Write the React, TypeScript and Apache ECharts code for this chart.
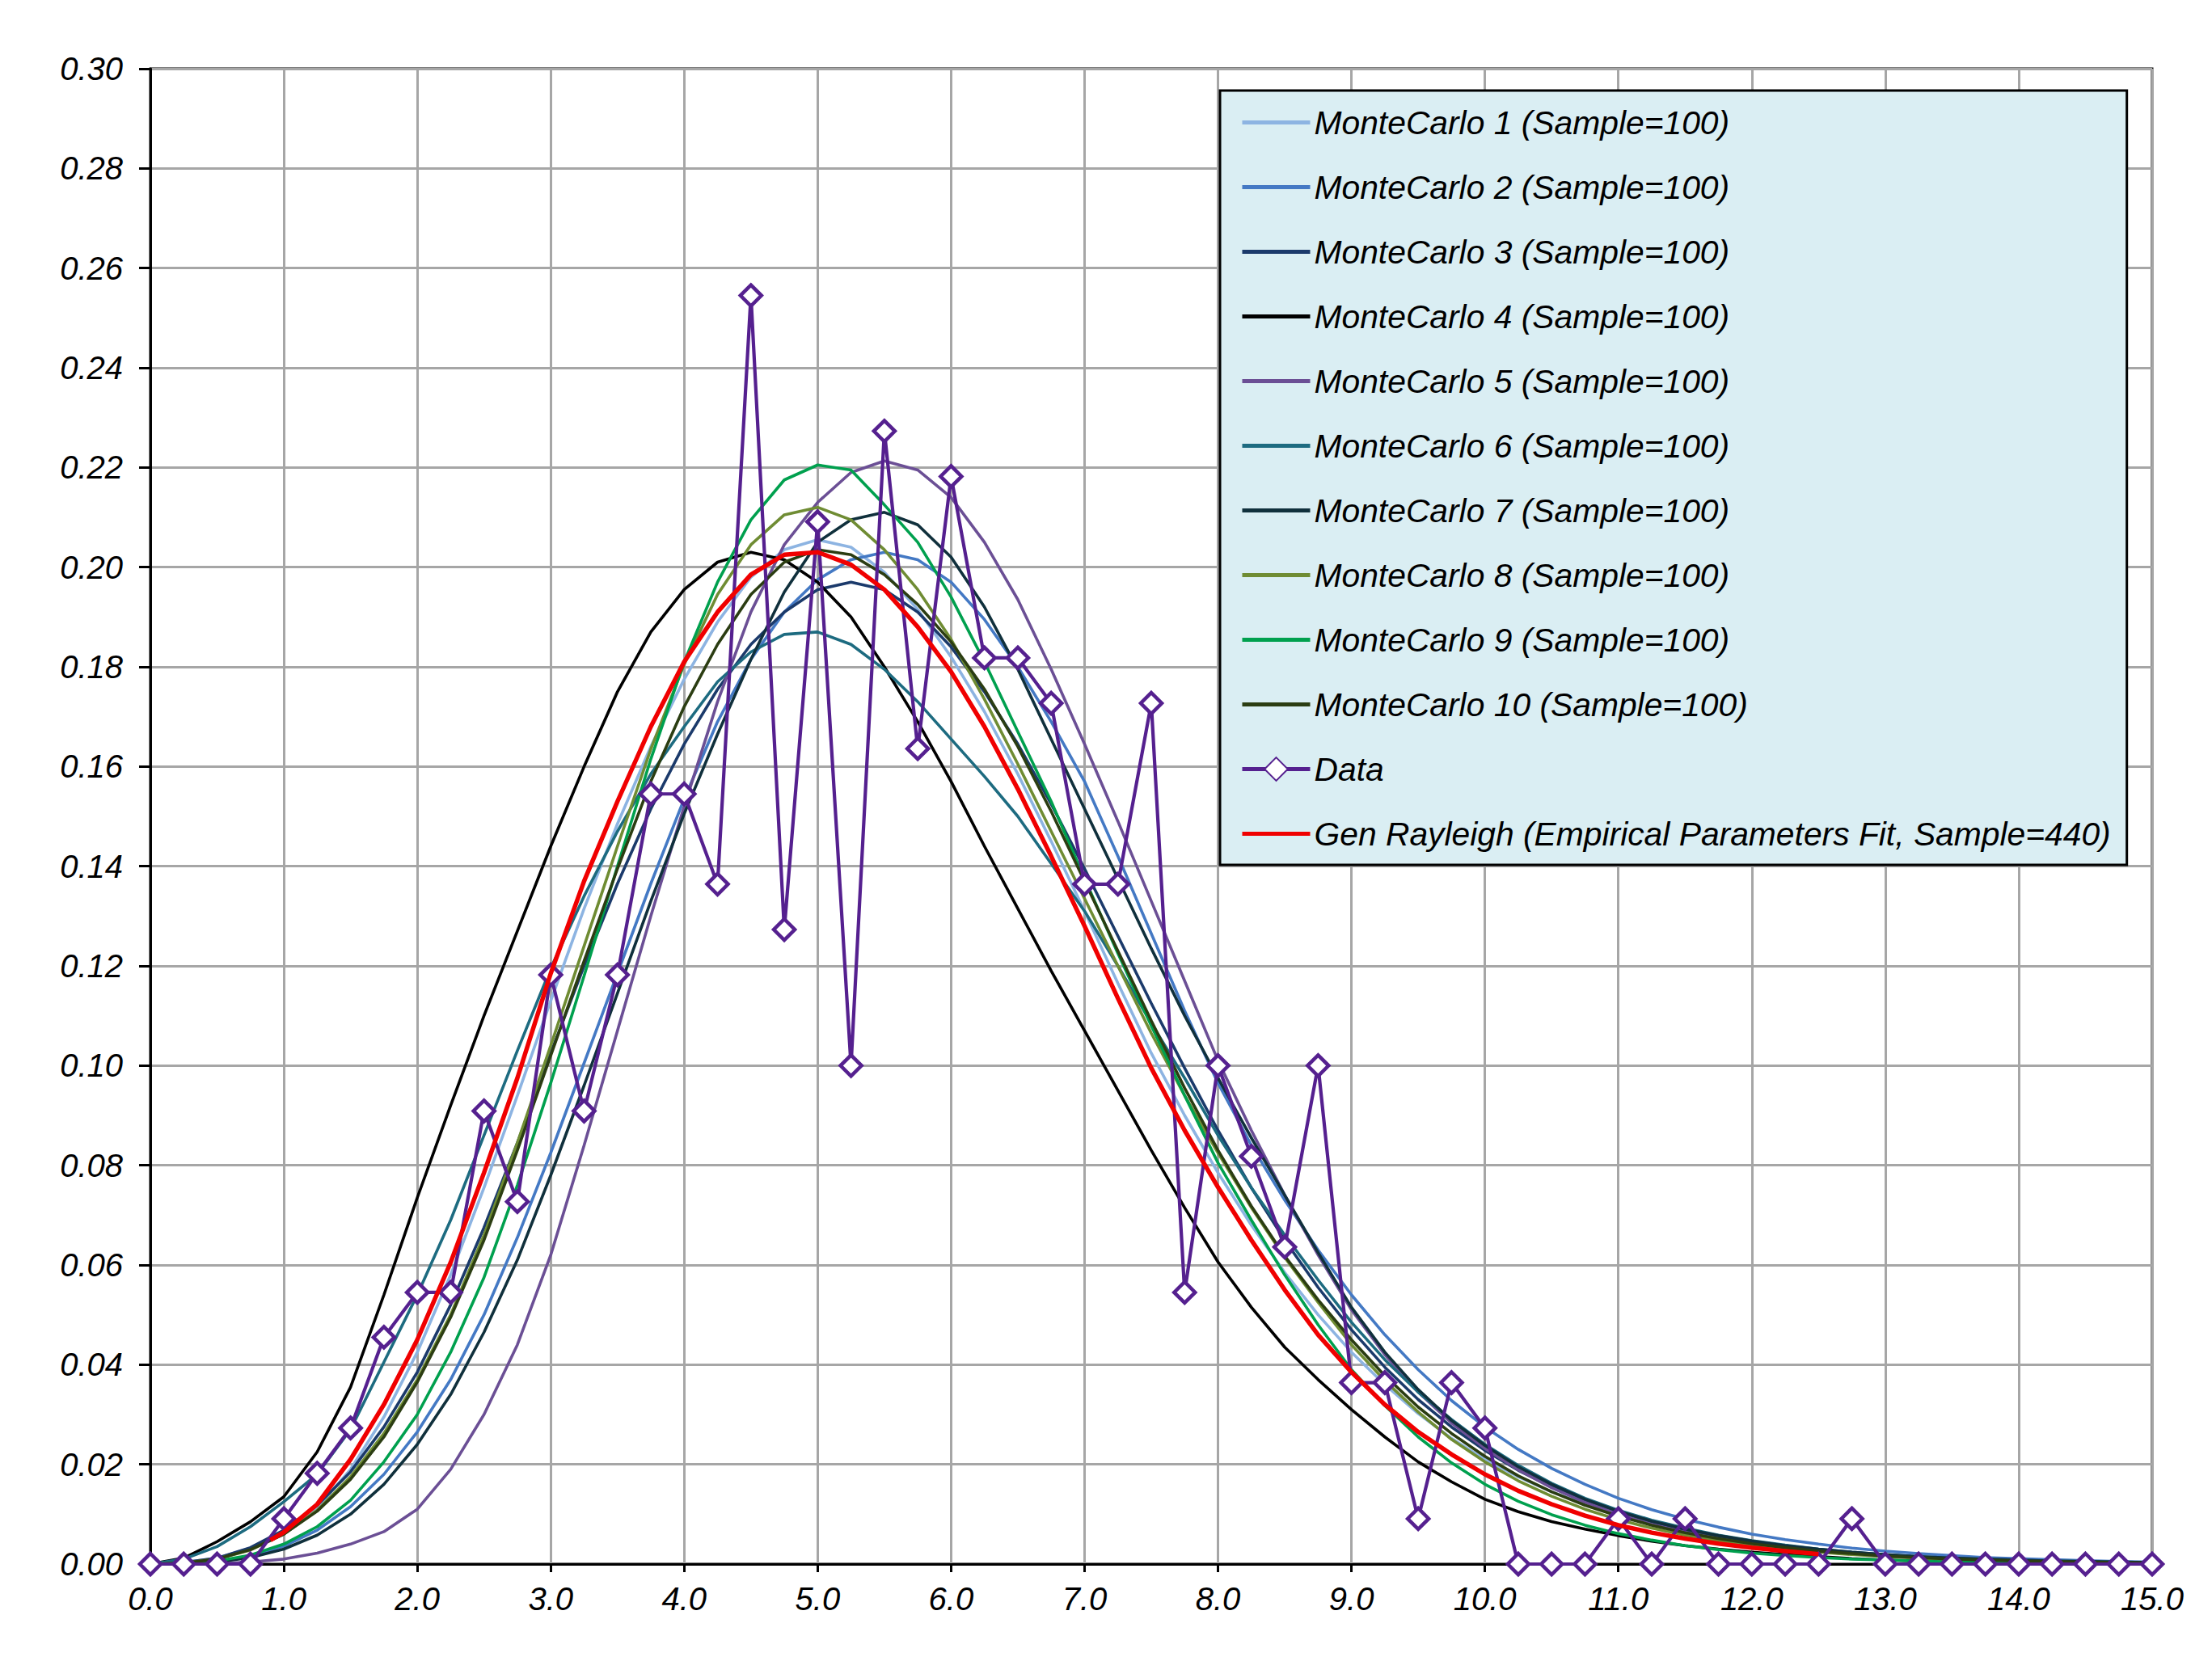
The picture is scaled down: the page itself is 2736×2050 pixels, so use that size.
import React, { useEffect, useRef } from "react";
import * as echarts from "echarts";

// x positions (bins) shared by the Monte Carlo curves and the Data series
const XS = [
  0, 0.25, 0.5, 0.75, 1, 1.25, 1.5, 1.75, 2, 2.25, 2.5, 2.75, 3, 3.25, 3.5, 3.75,
  4, 4.25, 4.5, 4.75, 5, 5.25, 5.5, 5.75, 6, 6.25, 6.5, 6.75, 7, 7.25, 7.5, 7.75,
  8, 8.25, 8.5, 8.75, 9, 9.25, 9.5, 9.75, 10, 10.25, 10.5, 10.75, 11, 11.25, 11.5, 11.75,
  12, 12.25, 12.5, 12.75, 13, 13.25, 13.5, 13.75, 14, 14.25, 14.5, 14.75, 15,
];

const MC1 = [
  0, 0.0003, 0.0012, 0.0032,
  0.0062, 0.0112, 0.019, 0.0295,
  0.0425, 0.058, 0.0755, 0.094,
  0.113, 0.1315, 0.1485, 0.164,
  0.1775, 0.189, 0.198, 0.2035,
  0.2055, 0.204, 0.199, 0.1915,
  0.182, 0.171, 0.1585, 0.145,
  0.131, 0.1165, 0.1025, 0.09,
  0.0785, 0.068, 0.0585, 0.05,
  0.0425, 0.036, 0.0302, 0.0252,
  0.021, 0.0175, 0.0145, 0.012,
  0.0099, 0.0081, 0.0066, 0.0054,
  0.0044, 0.0036, 0.0029, 0.0023,
  0.0018, 0.0014, 0.0011, 0.0009,
  0.0007, 0.0005, 0.0004, 0.0003,
  0.0003,
];

const MC2 = [
  0, 0.0001, 0.0005, 0.0016,
  0.0036, 0.0068, 0.0115, 0.018,
  0.0265, 0.037, 0.05, 0.0655,
  0.0825, 0.1005, 0.1185, 0.1365,
  0.1535, 0.169, 0.1815, 0.191,
  0.1975, 0.2015, 0.203, 0.2015,
  0.197, 0.1895, 0.18, 0.169,
  0.157, 0.142, 0.1265, 0.111,
  0.0965, 0.084, 0.073, 0.063,
  0.054, 0.046, 0.039, 0.0328,
  0.0275, 0.023, 0.0192, 0.016,
  0.0132, 0.0109, 0.009, 0.0074,
  0.006, 0.0049, 0.004, 0.0032,
  0.0026, 0.0021, 0.0017, 0.0013,
  0.0011, 0.0009, 0.0007, 0.0005,
  0.0004,
];

const MC3 = [
  0, 0.0003, 0.0012, 0.0033,
  0.0068, 0.0118, 0.0185, 0.0275,
  0.0385, 0.052, 0.0675, 0.0845,
  0.1025, 0.12, 0.1365, 0.1515,
  0.1645, 0.1755, 0.1845, 0.191,
  0.1955, 0.197, 0.1955, 0.191,
  0.184, 0.175, 0.1645, 0.1525,
  0.1395, 0.126, 0.1125, 0.0995,
  0.087, 0.0755, 0.065, 0.0555,
  0.047, 0.0395, 0.033, 0.0275,
  0.0228, 0.0188, 0.0155, 0.0127,
  0.0104, 0.0085, 0.0069, 0.0056,
  0.0045, 0.0036, 0.0029, 0.0023,
  0.0018, 0.0014, 0.0011, 0.0009,
  0.0007, 0.0005, 0.0004, 0.0003,
  0.0003,
];

const MC4 = [
  0, 0.0012, 0.0045, 0.0085,
  0.0135, 0.0225, 0.0355, 0.054,
  0.0735, 0.092, 0.11, 0.127,
  0.144, 0.16, 0.175, 0.187,
  0.1955, 0.201, 0.203, 0.2015,
  0.197, 0.19, 0.18, 0.169,
  0.157, 0.144, 0.1315, 0.119,
  0.107, 0.095, 0.083, 0.0715,
  0.0606, 0.0515, 0.0435, 0.037,
  0.031, 0.0255, 0.0205, 0.0165,
  0.013, 0.0105, 0.0085, 0.007,
  0.0057, 0.0046, 0.0037, 0.003,
  0.0024, 0.0019, 0.0015, 0.0011,
  0.0008, 0.0006, 0.0004, 0.0003,
  0.0002, 0.0002, 0.0001, 0.0001,
  0.0001,
];

const MC5 = [
  0, 0, 0.0001, 0.0004,
  0.001, 0.0022, 0.004, 0.0065,
  0.011, 0.019, 0.03, 0.044,
  0.062, 0.084, 0.107, 0.13,
  0.152, 0.173, 0.191, 0.2045,
  0.213, 0.219, 0.2213, 0.2195,
  0.214, 0.205, 0.1935, 0.1795,
  0.1645, 0.149, 0.133, 0.117,
  0.101, 0.087, 0.074, 0.062,
  0.051, 0.042, 0.0345, 0.0283,
  0.0232, 0.0189, 0.0153, 0.0124,
  0.01, 0.008, 0.0064, 0.0051,
  0.0041, 0.0032, 0.0025, 0.002,
  0.0016, 0.0012, 0.0009, 0.0007,
  0.0006, 0.0004, 0.0003, 0.0003,
  0.0002,
];

const MC6 = [
  0, 0.001, 0.0035, 0.0075,
  0.0125, 0.018, 0.027, 0.0405,
  0.054, 0.069, 0.086, 0.103,
  0.1195, 0.134, 0.147, 0.1585,
  0.168, 0.177, 0.183, 0.1865,
  0.187, 0.1845, 0.1795, 0.173,
  0.1655, 0.158, 0.15, 0.1405,
  0.131, 0.12, 0.1085, 0.0975,
  0.086, 0.0755, 0.066, 0.057,
  0.0485, 0.041, 0.0345, 0.029,
  0.024, 0.0198, 0.0162, 0.0132,
  0.0108, 0.0088, 0.0072, 0.0058,
  0.0047, 0.0038, 0.003, 0.0024,
  0.0019, 0.0015, 0.0012, 0.0009,
  0.0007, 0.0006, 0.0005, 0.0004,
  0.0003,
];

const MC7 = [
  0, 0.0001, 0.0004, 0.0013,
  0.003, 0.0058, 0.01, 0.016,
  0.024, 0.034, 0.0465, 0.061,
  0.078, 0.096, 0.1145, 0.133,
  0.1505, 0.1665, 0.1815, 0.195,
  0.205, 0.2095, 0.211, 0.2085,
  0.202, 0.192, 0.1795, 0.1655,
  0.1515, 0.1375, 0.1235, 0.11,
  0.0975, 0.0855, 0.074, 0.0625,
  0.0515, 0.0425, 0.035, 0.0288,
  0.0238, 0.0195, 0.016, 0.013,
  0.0106, 0.0086, 0.007, 0.0057,
  0.0046, 0.0037, 0.003, 0.0024,
  0.0019, 0.0015, 0.0012, 0.001,
  0.0008, 0.0006, 0.0005, 0.0004,
  0.0003,
];

const MC8 = [
  0, 0.0002, 0.001, 0.0028,
  0.006, 0.0108, 0.0175, 0.0262,
  0.037, 0.05, 0.066, 0.0845,
  0.104, 0.124, 0.144, 0.1635,
  0.1805, 0.1945, 0.2045, 0.2105,
  0.212, 0.2095, 0.2035, 0.1955,
  0.1855, 0.1735, 0.1605, 0.147,
  0.1335, 0.12, 0.1065, 0.094,
  0.0825, 0.0715, 0.0615, 0.0525,
  0.044, 0.0368, 0.0305, 0.025,
  0.0205, 0.0167, 0.0136, 0.011,
  0.0089, 0.0072, 0.0058, 0.0047,
  0.0037, 0.003, 0.0024, 0.0019,
  0.0015, 0.0012, 0.0009, 0.0007,
  0.0005, 0.0004, 0.0003, 0.0002,
  0.0002,
];

const MC9 = [
  0, 0.0001, 0.0006, 0.0018,
  0.004, 0.0075, 0.0128, 0.0205,
  0.03, 0.0425, 0.0575, 0.076,
  0.0965, 0.118, 0.14, 0.1615,
  0.181, 0.197, 0.2095, 0.2175,
  0.2205, 0.2195, 0.2125, 0.205,
  0.194, 0.181, 0.167, 0.153,
  0.1375, 0.1225, 0.108, 0.094,
  0.0805, 0.069, 0.058, 0.048,
  0.039, 0.0318, 0.0255, 0.0203,
  0.016, 0.0126, 0.0099, 0.0078,
  0.0061, 0.0048, 0.0037, 0.0029,
  0.0022, 0.0017, 0.0013, 0.001,
  0.0008, 0.0006, 0.0004, 0.0003,
  0.0002, 0.0002, 0.0001, 0.0001,
  0.0001,
];

const MC10 = [
  0, 0.0002, 0.001, 0.0029,
  0.006, 0.0106, 0.017, 0.0255,
  0.0365, 0.0495, 0.065, 0.083,
  0.102, 0.121, 0.1395, 0.157,
  0.172, 0.1845, 0.1945, 0.201,
  0.2035, 0.2025, 0.1985, 0.1925,
  0.185, 0.1755, 0.164, 0.151,
  0.137, 0.123, 0.109, 0.0955,
  0.083, 0.0718, 0.0618, 0.053,
  0.045, 0.0378, 0.0315, 0.0262,
  0.0216, 0.0177, 0.0145, 0.0118,
  0.0096, 0.0078, 0.0063, 0.0051,
  0.0041, 0.0033, 0.0026, 0.0021,
  0.0016, 0.0013, 0.001, 0.0008,
  0.0006, 0.0005, 0.0004, 0.0003,
  0.0002,
];

const DATA = [
  0, 0, 0, 0,
  0.0091, 0.0182, 0.0273, 0.0455,
  0.0545, 0.0545, 0.0909, 0.0727,
  0.1182, 0.0909, 0.1182, 0.1545,
  0.1545, 0.1364, 0.2545, 0.1273,
  0.2091, 0.1, 0.2273, 0.1636,
  0.2182, 0.1818, 0.1818, 0.1727,
  0.1364, 0.1364, 0.1727, 0.0545,
  0.1, 0.0818, 0.0636, 0.1,
  0.0364, 0.0364, 0.0091, 0.0364,
  0.0273, 0, 0, 0,
  0.0091, 0, 0.0091, 0,
  0, 0, 0, 0.0091,
  0, 0, 0, 0,
  0, 0, 0, 0,
  0,
];

const RED_X = [
  0.9, 1, 1.25, 1.5, 1.75, 2, 2.25, 2.5, 2.75, 3, 3.25, 3.5, 3.75,
  4, 4.25, 4.5, 4.75, 5, 5.25, 5.5, 5.75, 6, 6.25, 6.5, 6.75, 7, 7.25, 7.5, 7.75,
  8, 8.25, 8.5, 8.75, 9, 9.25, 9.5, 9.75, 10, 10.25, 10.5, 10.75, 11, 11.25, 11.5, 11.75,
  12, 12.25, 12.5,
];

const RED_Y = [
  0.0048, 0.0064, 0.012, 0.021, 0.032, 0.045, 0.0605, 0.0785, 0.0975, 0.1185, 0.137, 0.153, 0.168,
  0.181, 0.191, 0.1985, 0.2025, 0.203, 0.2005, 0.1955, 0.188, 0.179, 0.168, 0.1555, 0.142, 0.128, 0.1135, 0.0995, 0.087,
  0.0756, 0.065, 0.055, 0.046, 0.0385, 0.032, 0.0265, 0.022, 0.018, 0.0147, 0.012, 0.0097, 0.0078, 0.0063, 0.0051, 0.0041,
  0.0033, 0.0026, 0.002,
];

const MC_NAMES = [
  "MonteCarlo 1 (Sample=100)",
  "MonteCarlo 2 (Sample=100)",
  "MonteCarlo 3 (Sample=100)",
  "MonteCarlo 4 (Sample=100)",
  "MonteCarlo 5 (Sample=100)",
  "MonteCarlo 6 (Sample=100)",
  "MonteCarlo 7 (Sample=100)",
  "MonteCarlo 8 (Sample=100)",
  "MonteCarlo 9 (Sample=100)",
  "MonteCarlo 10 (Sample=100)",
];
const DATA_NAME = "Data";
const RED_NAME = "Gen Rayleigh (Empirical Parameters Fit, Sample=440)";

const MC_COLORS = [
  "#8DB4E2",
  "#4479C4",
  "#1B3A6B",
  "#000000",
  "#6B4F95",
  "#1D6B80",
  "#10303C",
  "#6F8C33",
  "#00A04E",
  "#2B3D12",
];
const DATA_COLOR = "#55208F";
const RED_COLOR = "#F00000";

const FONT = "'Liberation Sans', Arial, Helvetica, sans-serif";
const LINE_ICON = "path://M0,0H84V5H0Z";

export default function App() {
  const ref = useRef<HTMLDivElement>(null);

  useEffect(() => {
    if (!ref.current) return;
    const chart = echarts.init(ref.current, undefined, { renderer: "svg" });

    const mcSets = [MC1, MC2, MC3, MC4, MC5, MC6, MC7, MC8, MC9, MC10];
    const pair = (xs: number[], ys: number[]) => xs.map((x, i) => [x, ys[i]]);

    const mcSeries = mcSets.map((ys, k) => ({
      name: MC_NAMES[k],
      type: "line",
      data: pair(XS, ys),
      showSymbol: false,
      symbol: "none",
      color: MC_COLORS[k],
      lineStyle: { color: MC_COLORS[k], width: 3.6 },
      z: 2,
    }));

    const labelStyle = {
      fontSize: 40,
      fontStyle: "italic",
      fontFamily: FONT,
      color: "#000",
    };

    chart.setOption({
      animation: false,
      backgroundColor: "#ffffff",
      grid: {
        left: 186,
        top: 85,
        width: 2476,
        height: 1850,
        show: true,
        borderColor: "#000",
        borderWidth: 3,
        backgroundColor: "transparent",
      },
      xAxis: {
        type: "value",
        min: 0,
        max: 15,
        interval: 1,
        axisLine: { show: true, onZero: false, lineStyle: { color: "#000", width: 3 } },
        axisTick: { show: true, length: 10, lineStyle: { color: "#000", width: 3 } },
        axisLabel: {
          ...labelStyle,
          margin: 23,
          showMinLabel: true,
          showMaxLabel: true,
          formatter: (v: number) => v.toFixed(1),
        },
        splitLine: { show: true, lineStyle: { color: "#A6A6A6", width: 3 } },
      },
      yAxis: {
        type: "value",
        min: 0,
        max: 0.3,
        interval: 0.02,
        axisLine: { show: true, lineStyle: { color: "#000", width: 3 } },
        axisTick: { show: true, length: 14, lineStyle: { color: "#000", width: 3 } },
        axisLabel: {
          ...labelStyle,
          margin: 34,
          showMinLabel: true,
          showMaxLabel: true,
          formatter: (v: number) => v.toFixed(2),
        },
        splitLine: { show: true, lineStyle: { color: "#A6A6A6", width: 3 } },
      },
      legend: {
        orient: "vertical",
        left: 1509,
        top: 112,
        backgroundColor: "#DAEEF3",
        borderColor: "#000",
        borderWidth: 3,
        padding: [19, 20, 18, 25],
        itemGap: 39,
        itemWidth: 84,
        itemHeight: 36,
        textStyle: { ...labelStyle, fontSize: 40.8, lineHeight: 40 },
        data: [
          ...MC_NAMES.map((n) => ({ name: n, icon: LINE_ICON })),
          { name: DATA_NAME, lineStyle: { width: 5 } },
          { name: RED_NAME, icon: LINE_ICON },
        ],
      },
      series: [
        ...mcSeries,
        {
          name: DATA_NAME,
          type: "line",
          data: pair(XS, DATA),
          symbol: "diamond",
          symbolSize: 26,
          color: DATA_COLOR,
          itemStyle: { color: "#ffffff", borderColor: DATA_COLOR, borderWidth: 4.5 },
          lineStyle: { color: DATA_COLOR, width: 4.2 },
          z: 3,
        },
        {
          name: RED_NAME,
          type: "line",
          data: pair(RED_X, RED_Y),
          showSymbol: false,
          symbol: "none",
          color: RED_COLOR,
          lineStyle: { color: RED_COLOR, width: 5.5 },
          z: 4,
        },
      ],
    });

    return () => chart.dispose();
  }, []);

  return (
    <div
      ref={ref}
      style={{ position: "absolute", left: 0, top: 0, width: 2736, height: 2050, background: "#fff" }}
    />
  );
}
